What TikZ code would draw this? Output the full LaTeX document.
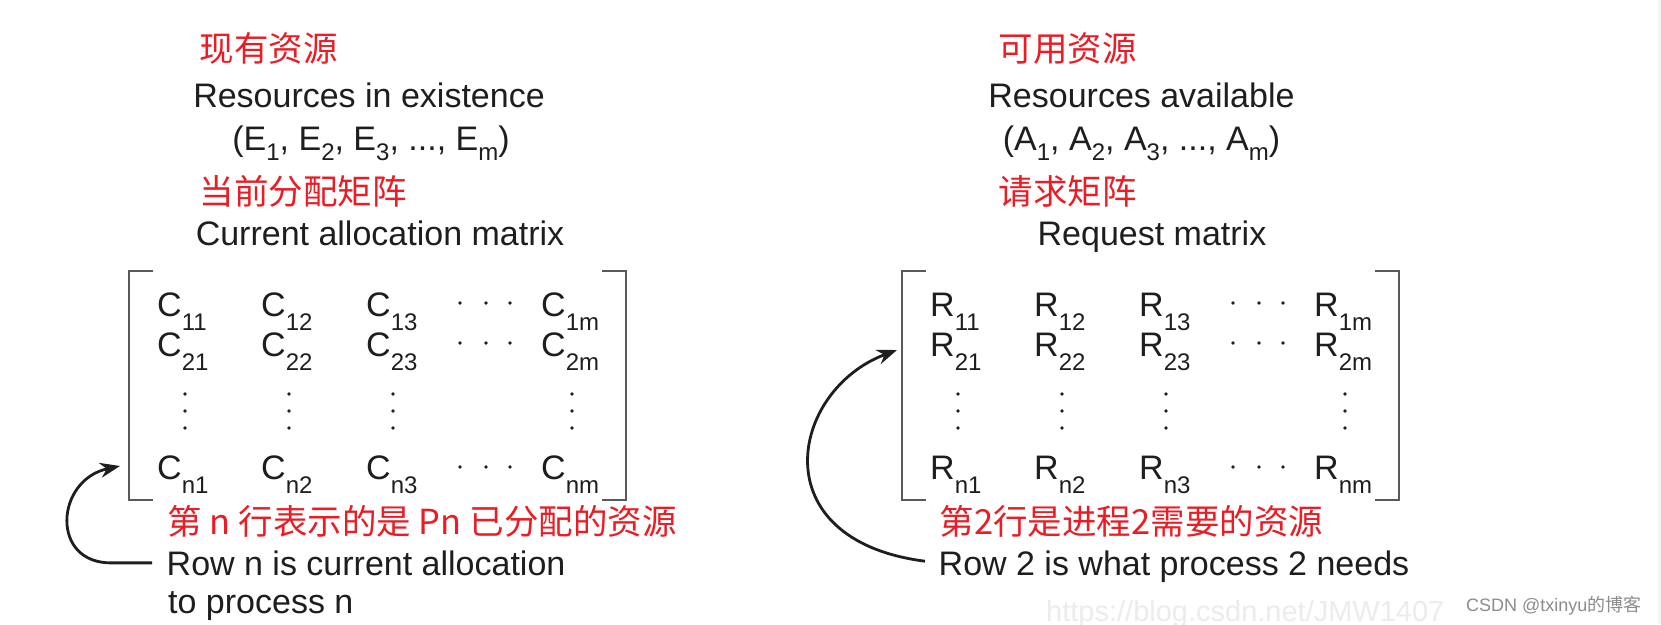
\documentclass[tikz,border=0pt]{standalone}
\usepackage{fontspec}
\setmainfont{Liberation Sans}
\newfontfamily\cjk{Noto Sans CJK SC}
\usetikzlibrary{arrows.meta}
\definecolor{annored}{RGB}{236,28,36}
\definecolor{inkblack}{RGB}{30,30,30}
\definecolor{brackgray}{RGB}{90,90,90}
\newcommand{\melem}[2]{#1\raisebox{-14pt}{\fontsize{24}{24}\selectfont #2}}
\newcommand{\vsub}[2]{#1\raisebox{-10pt}{\fontsize{24}{24}\selectfont #2}}

\begin{document}
\begin{tikzpicture}[x=1pt, y=-1pt,
    every node/.style={inner sep=0pt, text=inkblack, font=\fontsize{34}{40}\selectfont},
    zhlabel/.style={anchor=base west, text=annored, font=\cjk\fontsize{34.5}{40}\selectfont},
    enlabel/.style={anchor=base west},
    headtxt/.style={anchor=base},
    entrybox/.style={anchor=base west},
    brackline/.style={draw=brackgray, line width=2pt},
    curlarrow/.style={-{Stealth[length=20pt, width=15pt]}, line width=2.8pt, draw=inkblack},
    wmark/.style={anchor=base west}]
    \useasboundingbox (0,0) rectangle (1661,624);
    \fill[white] (0,0) rectangle (1661,624);
    \fill[gray!8] (1658,0) rectangle (1661,624);

    % existing resources and allocation matrix
    \node[zhlabel] (exist-zh) at (199.5,61) {现有资源};
    \node[headtxt] (exist-en) at (369,107) {Resources in existence};
    \node[headtxt] (exist-vec) at (371,150) {(\vsub{E}{1}, \vsub{E}{2}, \vsub{E}{3}, ..., \vsub{E}{m})};
    \node[zhlabel] (alloc-zh) at (199.5,204.5) {当前分配矩阵};
    \node[headtxt] (alloc-en) at (380,245) {Current allocation matrix};

    \foreach \rw/\y in {1/316, 2/356, n/479}
        \foreach \cl/\x in {1/157, 2/261, 3/366, m/541}
            \node[entrybox] (c\rw\cl) at (\x,\y) {\melem{C}{\rw\cl}};
    \foreach \x in {460,486,510}
        \foreach \y in {303,343,467}
            \fill[inkblack] (\x,\y) circle (1.8);
    \foreach \x in {185,289,393,572}
        \foreach \y in {394,411,428}
            \fill[inkblack] (\x,\y) circle (1.8);
    \draw[brackline] (153,271) -- (129,271) -- (129,500) -- (153,500);
    \draw[brackline] (602,271) -- (626,271) -- (626,500) -- (602,500);

    \node[zhlabel] (rown-zh) at (167.5,534.5) {第 n 行表示的是 Pn 已分配的资源};
    \node[enlabel] (rown-en) at (166.5,575) {Row n is current allocation};
    \node[enlabel] (rown-en2) at (168,613) {to process n};
    \coordinate (rown-tip) at (120,466);
    \draw[curlarrow] ([xshift=-14.5pt]rown-en.west) -- ++(-40,0)
        .. controls (50,564) and (55,480) .. (rown-tip);

    % available resources and request matrix
    \node[zhlabel] (avail-zh) at (998.5,61) {可用资源};
    \node[headtxt] (avail-en) at (1141.5,107) {Resources available};
    \node[headtxt] (avail-vec) at (1141.5,150) {(\vsub{A}{1}, \vsub{A}{2}, \vsub{A}{3}, ..., \vsub{A}{m})};
    \node[zhlabel] (req-zh) at (998.5,204.5) {请求矩阵};
    \node[headtxt] (req-en) at (1152,245) {Request matrix};

    \foreach \rw/\y in {1/316, 2/356, n/479}
        \foreach \cl/\x in {1/930, 2/1034, 3/1139, m/1314}
            \node[entrybox] (r\rw\cl) at (\x,\y) {\melem{R}{\rw\cl}};
    \foreach \x in {1233,1259,1283}
        \foreach \y in {303,343,467}
            \fill[inkblack] (\x,\y) circle (1.8);
    \foreach \x in {958,1062,1166,1345}
        \foreach \y in {394,411,428}
            \fill[inkblack] (\x,\y) circle (1.8);
    \draw[brackline] (926,271) -- (902,271) -- (902,500) -- (926,500);
    \draw[brackline] (1375,271) -- (1399,271) -- (1399,500) -- (1375,500);

    \node[zhlabel] (row2-zh) at (939.5,534.5) {第2行是进程2需要的资源};
    \node[enlabel] (row2-en) at (938.5,575) {Row 2 is what process 2 needs};
    \coordinate (row2-tip) at (897,350);
    \draw[curlarrow] ([xshift=-13.5pt,yshift=5pt]row2-en.west)
        .. controls (760,540) and (790,390) .. (row2-tip);

    % watermarks
    \node[wmark, text=gray!15, font=\fontsize{29}{32}\selectfont] (wm-url) at (1046,621) {https://blog.csdn.net/JMW1407};
    \node[wmark, text=gray!90, font=\fontsize{18}{20}\selectfont] (wm-csdn) at (1466,611) {CSDN @txinyu{\cjk 的博客}};
\end{tikzpicture}
\end{document}
